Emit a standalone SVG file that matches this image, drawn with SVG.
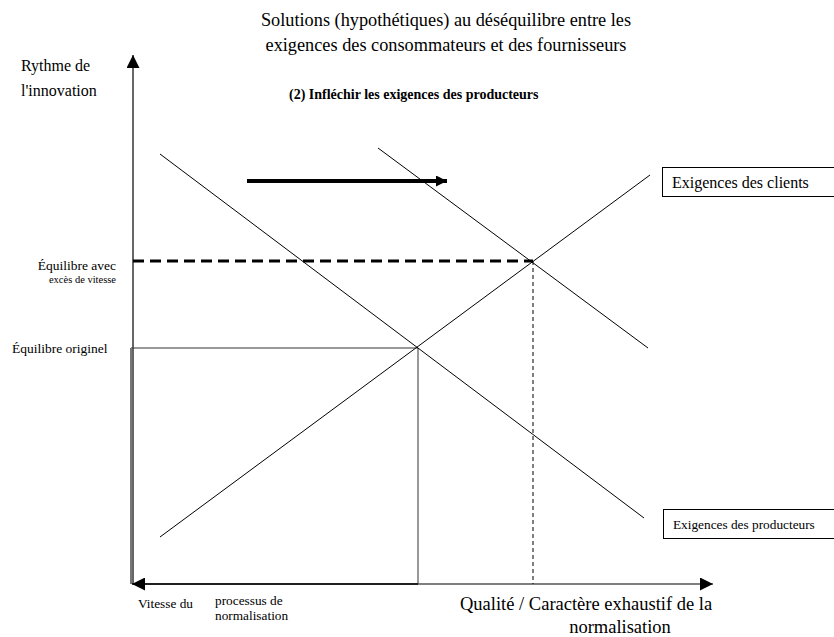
<svg xmlns="http://www.w3.org/2000/svg" width="834" height="637" viewBox="0 0 834 637">
  <style>
    text { font-family: "Liberation Serif", "Times New Roman", serif; fill: #000; }
    .title { font-size: 18.3px; }
    .qual { font-size: 18.5px; }
    .sub { font-size: 14px; font-weight: bold; }
    .lbl { font-size: 13.5px; }
    .axis-lbl { font-size: 16px; }
    .small { font-size: 10.5px; }
    .tick { font-size: 13.3px; }
    .curve { stroke: #000; stroke-width: 1; fill: none; }
    .box { fill: #fff; stroke: #000; stroke-width: 1; }
  </style>
  <defs>
    <marker id="triBig" viewBox="0 0 10 10" refX="10" refY="5" markerWidth="15" markerHeight="13" markerUnits="userSpaceOnUse" orient="auto">
      <path d="M0,0 L10,5 L0,10 z" fill="#000"/>
    </marker>
    <marker id="triMid" viewBox="0 0 10 10" refX="10" refY="5" markerWidth="14" markerHeight="11" markerUnits="userSpaceOnUse" orient="auto">
      <path d="M0,0 L10,5 L0,10 z" fill="#000"/>
    </marker>
  </defs>

  <!-- titles -->
  <g id="title">
    <text class="title" x="446" y="26" text-anchor="middle">Solutions (hypothétiques) au déséquilibre entre les</text>
    <text class="title" x="446" y="51" text-anchor="middle">exigences des consommateurs et des fournisseurs</text>
    <text class="sub" x="289" y="99">(2) Infléchir les exigences des producteurs</text>
  </g>

  <!-- axes -->
  <g id="axes">
    <line x1="133" y1="584" x2="133" y2="55" stroke="#000" stroke-width="1.2" marker-end="url(#triBig)"/>
    <line x1="133" y1="584" x2="713" y2="584" stroke="#000" stroke-width="1.2" marker-end="url(#triBig)"/>
    <text class="axis-lbl" x="21" y="71">Rythme de</text>
    <text class="axis-lbl" x="21" y="96">l'innovation</text>
    <text class="qual" x="460" y="610">Qualité / Caractère exhaustif de la</text>
    <text class="qual" x="620" y="633" text-anchor="middle">normalisation</text>
  </g>

  <!-- connectors: curves, guides and shift arrow -->
  <g id="connectors">
    <!-- original equilibrium box -->
    <line x1="131" y1="348" x2="418" y2="348" stroke="#333" stroke-width="1.2"/>
    <line x1="131" y1="348" x2="131" y2="584" stroke="#777" stroke-width="2"/>
    <line x1="418" y1="348" x2="418" y2="584" stroke="#555" stroke-width="1.2"/>
    <line x1="418" y1="584" x2="132" y2="584" stroke="#000" stroke-width="1.5" marker-end="url(#triBig)"/>
    <!-- producer demand, original and shifted -->
    <line class="curve" x1="160" y1="154" x2="644" y2="518"/>
    <line class="curve" x1="378" y1="148" x2="648" y2="348"/>
    <!-- client demand -->
    <line class="curve" x1="160" y1="537" x2="650" y2="175"/>
    <!-- equilibrium with excess speed -->
    <line x1="133" y1="261" x2="533" y2="261" stroke="#000" stroke-width="3" stroke-dasharray="11 6"/>
    <line x1="533" y1="261" x2="533" y2="584" stroke="#000" stroke-width="1" stroke-dasharray="4 3"/>
    <!-- shift arrow -->
    <line x1="247" y1="181" x2="447" y2="181" stroke="#000" stroke-width="4" marker-end="url(#triMid)"/>
  </g>

  <g id="eq-excess">
    <text class="lbl" x="116" y="270" text-anchor="end">Équilibre avec</text>
    <text class="small" x="116" y="283" text-anchor="end">excès de vitesse</text>
  </g>
  <g id="eq-original">
    <text class="lbl" x="12" y="353">Équilibre originel</text>
  </g>

  <g id="clients">
    <rect class="box" x="662.5" y="167.5" width="180" height="29"/>
    <text class="axis-lbl" x="672" y="188">Exigences des clients</text>
  </g>
  <g id="producers">
    <rect class="box" x="663.5" y="509.5" width="180" height="29"/>
    <text class="tick" x="673" y="529">Exigences des producteurs</text>
  </g>

  <g id="speed-label">
    <text class="tick" x="138" y="608">Vitesse du</text>
    <text class="tick" x="215" y="605">processus de</text>
    <text class="tick" x="215" y="620">normalisation</text>
  </g>
</svg>
